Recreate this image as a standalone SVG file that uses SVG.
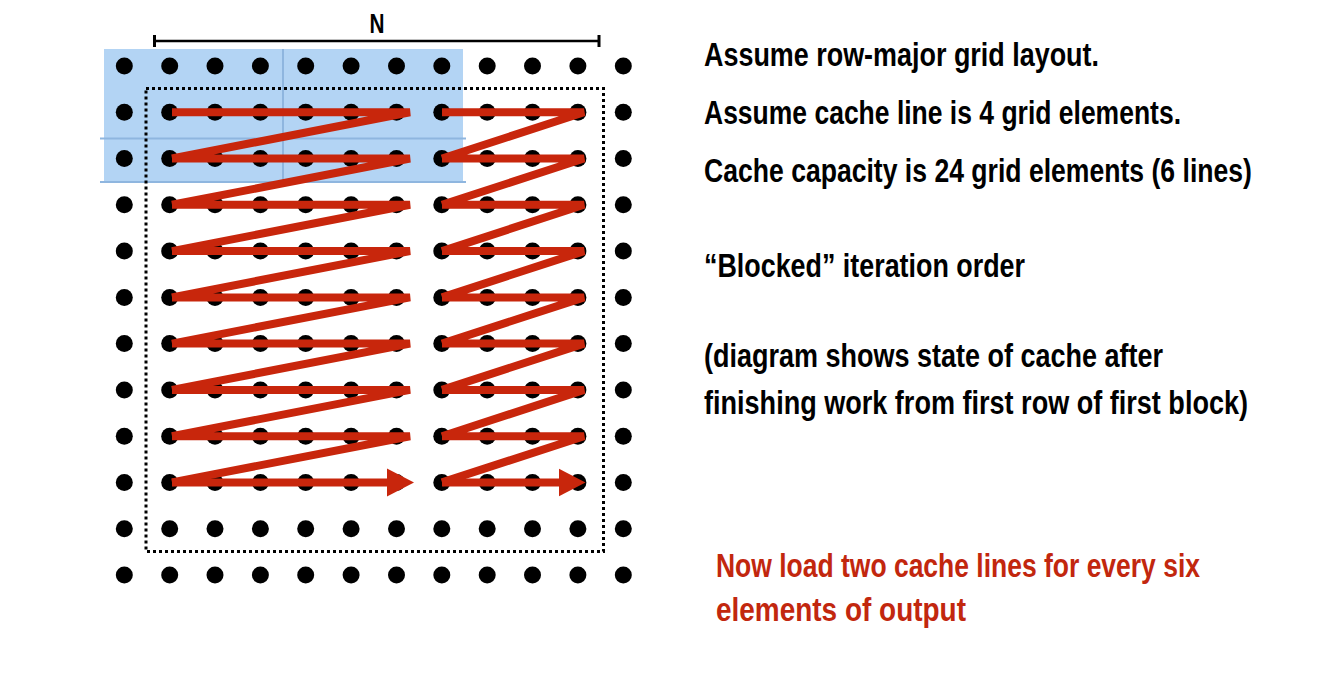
<svg xmlns="http://www.w3.org/2000/svg" xmlns:xlink="http://www.w3.org/1999/xlink" width="1322" height="692" viewBox="0 0 1322 692">
<style>
.t{font-family:"Liberation Sans",Arial,sans-serif;font-weight:bold;font-size:33px;fill:#000}
.r{fill:#c2270e}
.red{stroke:#c8260c;stroke-width:8;fill:none;stroke-linecap:butt}
.dot{fill:#000}
.bl{stroke:#8fb6df;stroke-width:2;fill:none}
</style>
<defs>
<g id="row">
<circle class="dot" cx="124.3" cy="0" r="8.5"/>
<circle class="dot" cx="169.7" cy="0" r="8.5"/>
<circle class="dot" cx="215.0" cy="0" r="8.5"/>
<circle class="dot" cx="260.4" cy="0" r="8.5"/>
<circle class="dot" cx="305.7" cy="0" r="8.5"/>
<circle class="dot" cx="351.1" cy="0" r="8.5"/>
<circle class="dot" cx="396.5" cy="0" r="8.5"/>
<circle class="dot" cx="441.8" cy="0" r="8.5"/>
<circle class="dot" cx="487.2" cy="0" r="8.5"/>
<circle class="dot" cx="532.5" cy="0" r="8.5"/>
<circle class="dot" cx="577.9" cy="0" r="8.5"/>
<circle class="dot" cx="623.3" cy="0" r="8.5"/>
</g>
<marker id="ah" markerUnits="userSpaceOnUse" markerWidth="30" markerHeight="30" refX="1" refY="14" orient="auto" viewBox="0 0 30 28">
<path d="M0,0 L27,14 L0,28 Z" fill="#c8260c"/>
</marker>
</defs>
<rect width="1322" height="692" fill="#fff"/>

<g id="cache">
<rect x="104" y="49" width="359" height="133" fill="#b3d4f4"/>
<line class="bl" x1="100" y1="138.5" x2="466" y2="138.5"/>
<line class="bl" x1="100" y1="182" x2="466" y2="182"/>
<line class="bl" x1="283" y1="49" x2="283" y2="182"/>
</g>

<g id="n-bar">
<line x1="154.5" y1="41" x2="599" y2="41" stroke="#000" stroke-width="2.5"/>
<line x1="154.5" y1="35" x2="154.5" y2="47" stroke="#000" stroke-width="3"/>
<line x1="599" y1="35" x2="599" y2="47" stroke="#000" stroke-width="3"/>
<text class="t" x="369.5" y="32.5" textLength="15" lengthAdjust="spacingAndGlyphs" style="font-size:28px">N</text>
</g>

<g id="block">
<rect x="146" y="88.5" width="457.5" height="463" fill="none" stroke="#000" stroke-width="3" stroke-dasharray="3 3"/>
</g>

<g id="grid">
<use xlink:href="#row" y="66.0"/>
<use xlink:href="#row" y="112.3"/>
<use xlink:href="#row" y="158.5"/>
<use xlink:href="#row" y="204.8"/>
<use xlink:href="#row" y="251.1"/>
<use xlink:href="#row" y="297.4"/>
<use xlink:href="#row" y="343.6"/>
<use xlink:href="#row" y="389.9"/>
<use xlink:href="#row" y="436.2"/>
<use xlink:href="#row" y="482.4"/>
<use xlink:href="#row" y="528.7"/>
<use xlink:href="#row" y="575.0"/>
</g>

<g id="connectors">
<path class="red" d="M172 112.3H410L172 158.5 M172 158.5H410L172 204.8 M172 204.8H410L172 251.1 M172 251.1H410L172 297.4 M172 297.4H410L172 343.6 M172 343.6H410L172 389.9 M172 389.9H410L172 436.2 M172 436.2H410L172 482.4" stroke-linejoin="bevel"/>
<path class="red" d="M172 482.4H388" marker-end="url(#ah)"/>
<path class="red" d="M442 112.3H584L442 158.5 M442 158.5H584L442 204.8 M442 204.8H584L442 251.1 M442 251.1H584L442 297.4 M442 297.4H584L442 343.6 M442 343.6H584L442 389.9 M442 389.9H584L442 436.2 M442 436.2H584L442 482.4" stroke-linejoin="bevel"/>
<path class="red" d="M442 482.4H559.5" marker-end="url(#ah)"/>
</g>

<g id="notes">
<text class="t" transform="translate(704,66) scale(0.72,1)" textLength="548.6" lengthAdjust="spacingAndGlyphs">Assume row-major grid layout.</text>
<text class="t" transform="translate(704,124) scale(0.72,1)" textLength="662.5" lengthAdjust="spacingAndGlyphs">Assume cache line is 4 grid elements.</text>
<text class="t" transform="translate(704,182) scale(0.72,1)" textLength="761" lengthAdjust="spacingAndGlyphs">Cache capacity is 24 grid elements (6 lines)</text>
<text class="t" transform="translate(704,277) scale(0.72,1)" textLength="445.8" lengthAdjust="spacingAndGlyphs">“Blocked” iteration order</text>
<text class="t" transform="translate(704,367) scale(0.72,1)" textLength="637.5" lengthAdjust="spacingAndGlyphs">(diagram shows state of cache after</text>
<text class="t" transform="translate(704,414) scale(0.72,1)" textLength="755.6" lengthAdjust="spacingAndGlyphs">finishing work from first row of first block)</text>
<text class="t r" transform="translate(716,577) scale(0.72,1)" textLength="672.2" lengthAdjust="spacingAndGlyphs">Now load two cache lines for every six</text>
<text class="t r" transform="translate(716,621) scale(0.72,1)" textLength="347.2" lengthAdjust="spacingAndGlyphs">elements of output</text>
</g>
</svg>
